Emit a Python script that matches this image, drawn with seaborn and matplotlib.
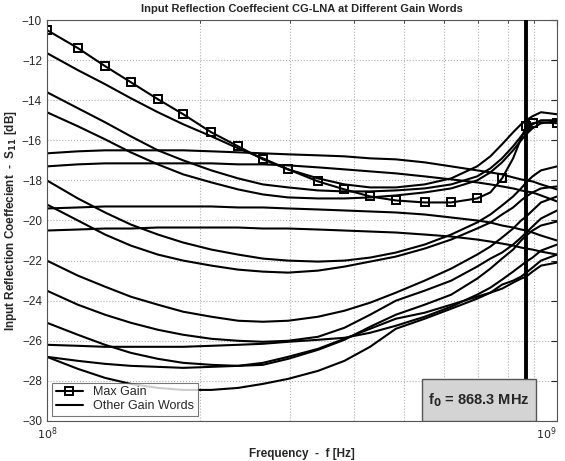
import numpy as np
import pandas as pd
import matplotlib
matplotlib.use("Agg")
import matplotlib.pyplot as plt
from matplotlib.patches import Rectangle
from matplotlib.lines import Line2D
from matplotlib.ticker import NullFormatter
import seaborn as sns

# frequency points in MHz
freq_mhz = [100, 115, 130, 146, 165, 185, 210, 237, 265, 297, 340, 383, 430,
            483, 550, 620, 697, 740, 780, 820, 850, 870, 895, 930, 1000]

# S11 [dB]
max_gain = [-10.5, -11.4, -12.3, -13.1, -13.95, -14.7, -15.6, -16.3, -16.95, -17.45,
            -18.05, -18.45, -18.8, -19.0, -19.1, -19.1, -18.9, -18.6, -17.9, -16.9,
            -15.9, -15.3, -15.15, -15.1, -15.15]
max_gain_marks = [0, 1, 2, 3, 4, 5, 6, 7, 8, 9, 10, 11, 12, 13, 14, 15, 16, 18, 21, 22, 24]

other_words = {
    "a1": [-11.65, -12.5, -13.2, -13.9, -14.6, -15.2, -15.8, -16.4, -16.9, -17.45,
           -17.9, -18.2, -18.35, -18.35, -18.2, -17.9, -17.3, -16.8, -16.2, -15.6,
           -15.2, -15.0, -14.8, -14.6, -14.7],
    "a2": [-13.6, -14.4, -15.1, -15.8, -16.5, -17.0, -17.5, -17.9, -18.2, -18.35,
           -18.5, -18.55, -18.55, -18.5, -18.4, -18.2, -17.8, -17.4, -16.9, -16.3,
           -15.8, -15.5, -15.2, -15.0, -15.0],
    "a3": [-14.6, -15.3, -15.95, -16.6, -17.2, -17.7, -18.1, -18.45, -18.7, -18.85,
           -18.9, -18.9, -18.85, -18.75, -18.6, -18.4, -18.0, -17.6, -17.1, -16.5,
           -16.0, -15.7, -15.4, -15.15, -15.05],
    "f1": [-16.65, -16.55, -16.5, -16.5, -16.5, -16.5, -16.55, -16.6, -16.65, -16.7,
           -16.75, -16.8, -16.9, -16.95, -17.1, -17.3, -17.5, -17.6, -17.7, -17.85,
           -17.95, -18.0, -18.05, -18.2, -18.45],
    "f2": [-17.3, -17.2, -17.15, -17.15, -17.15, -17.15, -17.15, -17.2, -17.2, -17.25,
           -17.35, -17.45, -17.55, -17.65, -17.8, -17.95, -18.1, -18.2, -18.3, -18.4,
           -18.5, -18.55, -18.6, -18.75, -19.05],
    "b1": [-18.0, -18.9, -19.6, -20.2, -20.7, -21.1, -21.45, -21.7, -21.9, -22.0,
           -22.05, -22.0, -21.85, -21.6, -21.2, -20.7, -20.1, -19.7, -19.25, -18.8,
           -18.4, -18.1, -17.8, -17.5, -17.3],
    "b2": [-19.2, -20.0, -20.7, -21.25, -21.7, -22.0, -22.25, -22.45, -22.55, -22.6,
           -22.5, -22.3, -22.05, -21.8, -21.4, -20.95, -20.4, -20.1, -19.7, -19.35,
           -19.0, -18.8, -18.6, -18.4, -18.3],
    "f3": [-19.4, -19.35, -19.3, -19.3, -19.3, -19.3, -19.3, -19.35, -19.35, -19.4,
           -19.45, -19.5, -19.55, -19.6, -19.7, -19.85, -20.0, -20.1, -20.25, -20.35,
           -20.45, -20.5, -20.6, -20.75, -21.0],
    "f4": [-20.5, -20.45, -20.4, -20.4, -20.35, -20.35, -20.35, -20.35, -20.4, -20.4,
           -20.45, -20.5, -20.55, -20.6, -20.7, -20.8, -20.95, -21.05, -21.15, -21.25,
           -21.35, -21.4, -21.45, -21.55, -21.7],
    "l3": [-22.0, -22.75, -23.3, -23.8, -24.2, -24.55, -24.8, -25.0, -25.05, -25.0,
           -24.8, -24.5, -24.1, -23.6, -23.0, -22.4, -21.7, -21.3, -20.85, -20.4,
           -20.0, -19.8, -19.5, -19.1, -18.8],
    "l4": [-23.5, -24.2, -24.7, -25.1, -25.45, -25.7, -25.9, -26.0, -26.05, -26.0,
           -25.8, -25.35, -24.7, -24.0, -23.5, -23.0, -22.3, -21.9, -21.6, -21.2,
           -20.85, -20.6, -20.3, -19.9, -19.5],
    "f5": [-26.2, -26.25, -26.3, -26.3, -26.3, -26.3, -26.25, -26.2, -26.15, -26.05,
           -25.95, -25.85, -25.6, -25.25, -24.8, -24.3, -23.7, -23.35, -22.95, -22.55,
           -22.25, -22.05, -21.85, -21.5, -21.2],
    "l5": [-25.1, -25.7, -26.2, -26.6, -26.9, -27.1, -27.2, -27.25, -27.2, -26.9,
           -26.45, -25.95, -25.3, -24.7, -24.2, -23.7, -22.9, -22.4, -21.9, -21.45,
           -21.0, -20.75, -20.5, -20.25, -20.05],
    "l6": [-26.8, -27.0, -27.15, -27.25, -27.3, -27.35, -27.3, -27.25, -27.1, -26.8,
           -26.4, -25.9, -25.4, -24.9, -24.6, -24.2, -23.8, -23.6, -23.4, -23.1,
           -22.9, -22.8, -22.55, -22.25, -22.1],
    "l7": [-26.8, -27.4, -27.85, -28.15, -28.35, -28.45, -28.45, -28.35, -28.15, -27.9,
           -27.5, -27.0, -26.3, -25.4, -24.9, -24.4, -23.9, -23.6, -23.2, -23.0,
           -22.8, -22.6, -22.35, -22.0, -21.7],
}

f0 = 868.3e6

freq_hz = np.array(freq_mhz) * 1e6
rows = []
for name, vals in other_words.items():
    for f, v in zip(freq_hz, vals):
        rows.append({"curve": name, "freq": f, "s11": v})
df_other = pd.DataFrame(rows)
df_max = pd.DataFrame({"freq": freq_hz, "s11": max_gain})

sns.set_style("white")
plt.rcParams["font.family"] = ["Liberation Sans", "DejaVu Sans"]

fig = plt.figure(figsize=(5.65, 4.61), dpi=100)
ax = fig.add_axes([0.083, 0.0868, 0.903, 0.8698])

sns.lineplot(data=df_other, x="freq", y="s11", units="curve", estimator=None,
             color="black", lw=1.5, ax=ax, legend=False)
sns.lineplot(data=df_max, x="freq", y="s11", color="black", lw=1.5, marker="s",
             markersize=5.5, markerfacecolor="none", markeredgecolor="black",
             markeredgewidth=1.4, markevery=max_gain_marks, ax=ax, legend=False)

ax.axvline(f0, color="black", lw=2.8, zorder=3)

ax.set_xscale("log")
ax.set_xlim(1e8, 1e9)
ax.set_ylim(-30, -10)
ax.set_yticks(np.arange(-30, -9, 2))
ax.set_xticks([1e8, 1e9])
ax.set_xticklabels(["$10^8$", "$10^9$"])
ax.xaxis.set_minor_formatter(NullFormatter())
ax.grid(True, which="both", linestyle=":", color="#b0b0b0", lw=0.8)
ax.tick_params(which="both", direction="in", top=True, right=True, labelsize=8.5,
               length=4)
ax.tick_params(which="minor", length=2)
ax.tick_params(axis="x", labelsize=8)
for s in ax.spines.values():
    s.set_color("#555555")
    s.set_linewidth(0.8)

ax.set_title("Input Reflection Coeffecient CG-LNA at Different Gain Words",
             fontsize=8, fontweight="bold", pad=6)
ax.set_xlabel("Frequency  -  f [Hz]", fontsize=8.5, fontweight="bold", labelpad=4)
ax.set_ylabel("Input Reflection Coeffecient  -  S$_{\\mathbf{11}}$ [dB]",
              fontsize=8.5, fontweight="bold", labelpad=2)

# f0 annotation box
ax.add_patch(Rectangle((0.735, 0.0), 0.224, 0.105, transform=ax.transAxes,
                       facecolor="#d4d4d4", edgecolor="#555555", lw=1, zorder=5))
ax.text(0.847, 0.052, "f$_\\mathbf{0}$ = 868.3 MHz", transform=ax.transAxes,
        ha="center", va="center", fontsize=10.5, fontweight="bold", zorder=6)

handles = [
    Line2D([], [], color="black", lw=1.5, marker="s", markersize=5.5,
           markerfacecolor="none", markeredgewidth=1.4),
    Line2D([], [], color="black", lw=1.5),
]
leg = ax.legend(handles, ["Max Gain", "Other Gain Words"], loc="lower left",
                fontsize=9, frameon=True, fancybox=False, borderaxespad=0.4,
                handlelength=2.2, borderpad=0.3, labelspacing=0.15)
leg.get_frame().set_edgecolor("#555555")
leg.get_frame().set_linewidth(0.8)
leg.set_zorder(7)

# keep the 10^9 label inside the figure
for lbl in ax.get_xticklabels():
    if "9" in lbl.get_text():
        lbl.set_horizontalalignment("right")

fig.savefig("out.png", dpi=100)
